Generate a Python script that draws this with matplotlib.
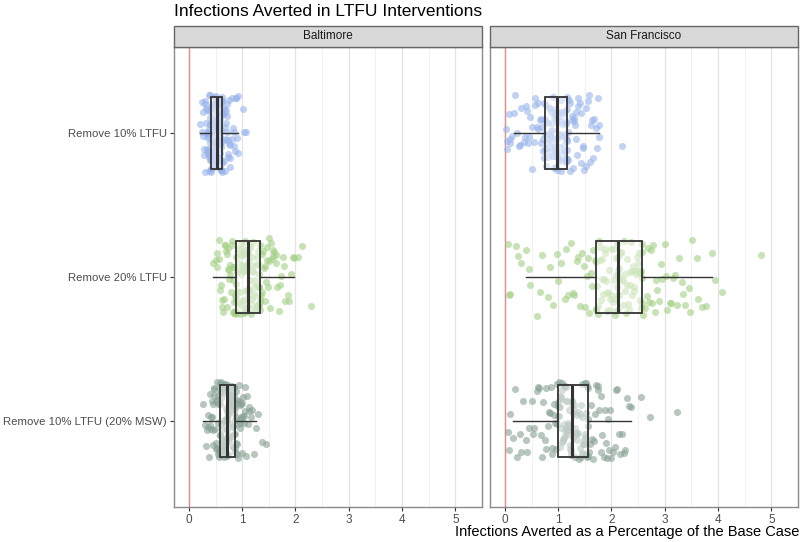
import numpy as np
import matplotlib.pyplot as plt
from matplotlib.patches import Rectangle

plt.rcParams['font.family'] = ['Liberation Sans', 'DejaVu Sans']

# data ----------------------------------------------------------------
cities = ['Baltimore', 'San Francisco']
interventions = ['Remove 10% LTFU', 'Remove 20% LTFU', 'Remove 10% LTFU (20% MSW)']
colors = ['#98B4EC', '#A3D084', '#87A294']

balt_10 = [0.21, 0.24, 0.26, 0.28, 0.29, 0.30, 0.31, 0.32, 0.33, 0.34, 0.34, 0.35, 0.36,
           0.36, 0.37, 0.37, 0.38, 0.38, 0.39, 0.39, 0.40, 0.40, 0.40, 0.41, 0.41,
           0.25, 0.27, 0.30, 0.32, 0.33, 0.35, 0.36, 0.37, 0.38, 0.39, 0.40, 0.40, 0.41,
           0.41, 0.42, 0.42, 0.43, 0.43, 0.44, 0.44, 0.45, 0.45, 0.46, 0.46, 0.47, 0.47,
           0.48, 0.48, 0.49, 0.49, 0.49, 0.50, 0.50, 0.51, 0.51, 0.51, 0.52, 0.52,
           0.42, 0.43, 0.44, 0.45, 0.46, 0.47, 0.48, 0.48, 0.49, 0.50, 0.50, 0.51, 0.52,
           0.52, 0.53, 0.53, 0.54, 0.54, 0.55, 0.55, 0.56, 0.56, 0.57, 0.57, 0.57, 0.58,
           0.58, 0.59, 0.59, 0.59, 0.60, 0.60, 0.60, 0.61, 0.61, 0.61, 0.62, 0.62,
           0.53, 0.54, 0.55, 0.55, 0.56, 0.57, 0.58, 0.58, 0.59, 0.60, 0.61, 0.61, 0.62,
           0.62, 0.63, 0.64, 0.65, 0.66, 0.67, 0.68, 0.69, 0.70, 0.71, 0.72, 0.73, 0.74,
           0.75, 0.77, 0.78, 0.80, 0.82, 0.84, 0.86, 0.88, 0.90, 0.93, 1.04, 1.08,
           0.63, 0.65, 0.67, 0.69, 0.71, 0.73, 0.75, 0.78, 0.81, 0.85, 0.89, 0.92, 1.02]
balt_20 = [0.46, 0.50, 0.53, 0.56, 0.58, 0.60, 0.62, 0.64, 0.66, 0.68, 0.70, 0.72, 0.73,
           0.75, 0.76, 0.77, 0.79, 0.80, 0.82, 0.83, 0.84, 0.85, 0.86, 0.88, 0.89,
           0.52, 0.57, 0.63, 0.67, 0.71, 0.74, 0.77, 0.80, 0.82, 0.84, 0.86, 0.87, 0.89,
           0.89, 0.90, 0.91, 0.92, 0.93, 0.94, 0.95, 0.96, 0.97, 0.98, 0.99, 1.00, 1.01,
           1.02, 1.03, 1.03, 1.04, 1.05, 1.06, 1.06, 1.07, 1.08, 1.09, 1.09, 1.10,
           0.91, 0.93, 0.95, 0.97, 0.99, 1.00, 1.02, 1.04, 1.05, 1.07, 1.08, 1.09, 1.10,
           1.10, 1.11, 1.12, 1.13, 1.14, 1.15, 1.16, 1.17, 1.18, 1.19, 1.20, 1.21, 1.22,
           1.23, 1.24, 1.25, 1.26, 1.27, 1.28, 1.29, 1.30, 1.31, 1.32, 1.32, 1.33,
           1.11, 1.13, 1.15, 1.17, 1.19, 1.21, 1.23, 1.25, 1.27, 1.29, 1.30, 1.31, 1.33,
           1.33, 1.35, 1.37, 1.39, 1.41, 1.43, 1.45, 1.47, 1.49, 1.51, 1.53, 1.55, 1.57,
           1.60, 1.63, 1.66, 1.69, 1.72, 1.76, 1.80, 1.85, 1.91, 1.97, 2.12, 2.30,
           1.34, 1.38, 1.42, 1.46, 1.50, 1.54, 1.58, 1.64, 1.70, 1.78, 1.87, 1.95, 2.05]
balt_msw = [0.27, 0.30, 0.33, 0.35, 0.37, 0.39, 0.41, 0.42, 0.44, 0.45, 0.46, 0.47, 0.48,
            0.49, 0.50, 0.51, 0.52, 0.53, 0.54, 0.55, 0.56, 0.56, 0.57, 0.58, 0.59,
            0.32, 0.36, 0.40, 0.43, 0.46, 0.48, 0.50, 0.52, 0.54, 0.55, 0.57, 0.58, 0.59,
            0.59, 0.60, 0.60, 0.61, 0.62, 0.62, 0.63, 0.64, 0.64, 0.65, 0.65, 0.66, 0.66,
            0.67, 0.67, 0.68, 0.68, 0.69, 0.69, 0.70, 0.70, 0.71, 0.71, 0.72, 0.72,
            0.60, 0.61, 0.62, 0.63, 0.64, 0.65, 0.66, 0.67, 0.68, 0.69, 0.70, 0.71, 0.72,
            0.72, 0.73, 0.73, 0.74, 0.75, 0.75, 0.76, 0.77, 0.77, 0.78, 0.79, 0.79, 0.80,
            0.81, 0.81, 0.82, 0.83, 0.83, 0.84, 0.84, 0.85, 0.85, 0.86, 0.86, 0.87,
            0.73, 0.74, 0.75, 0.76, 0.77, 0.78, 0.79, 0.80, 0.82, 0.83, 0.84, 0.85, 0.86,
            0.87, 0.88, 0.89, 0.90, 0.91, 0.92, 0.93, 0.94, 0.95, 0.96, 0.97, 0.98, 0.99,
            1.00, 1.02, 1.04, 1.06, 1.08, 1.10, 1.13, 1.17, 1.22, 1.30, 1.38, 1.45,
            0.88, 0.90, 0.92, 0.94, 0.96, 0.98, 1.01, 1.03, 1.06, 1.09, 1.12, 1.19, 1.26]
sf_10 = [0.02, 0.04, 0.07, 0.10, 0.13, 0.17, 0.22, 0.27, 0.31, 0.35, 0.39, 0.42, 0.45,
         0.48, 0.51, 0.54, 0.57, 0.60, 0.63, 0.65, 0.68, 0.70, 0.72, 0.74, 0.76,
         0.03, 0.09, 0.19, 0.29, 0.37, 0.44, 0.50, 0.56, 0.62, 0.67, 0.71, 0.73, 0.75,
         0.76, 0.77, 0.78, 0.79, 0.80, 0.81, 0.82, 0.83, 0.84, 0.85, 0.86, 0.87, 0.88,
         0.89, 0.90, 0.91, 0.92, 0.92, 0.93, 0.94, 0.94, 0.95, 0.96, 0.96, 0.97,
         0.77, 0.79, 0.81, 0.83, 0.85, 0.87, 0.88, 0.90, 0.91, 0.93, 0.94, 0.95, 0.96,
         0.97, 0.98, 0.99, 1.00, 1.01, 1.02, 1.03, 1.04, 1.05, 1.06, 1.07, 1.08, 1.09,
         1.10, 1.11, 1.12, 1.12, 1.13, 1.14, 1.14, 1.15, 1.15, 1.16, 1.16, 1.17,
         0.98, 1.00, 1.02, 1.04, 1.06, 1.08, 1.10, 1.11, 1.13, 1.14, 1.15, 1.16, 1.17,
         1.17, 1.19, 1.21, 1.23, 1.25, 1.27, 1.29, 1.31, 1.33, 1.35, 1.37, 1.40, 1.43,
         1.46, 1.49, 1.52, 1.55, 1.58, 1.61, 1.64, 1.67, 1.70, 1.74, 1.77, 2.20,
         1.18, 1.22, 1.26, 1.30, 1.34, 1.38, 1.42, 1.47, 1.53, 1.59, 1.65, 1.72, 1.76]
sf_20 = [0.05, 0.10, 0.20, 0.30, 0.39, 0.48, 0.60, 0.70, 0.80, 0.90, 0.98, 1.05, 1.12,
         1.18, 1.24, 1.30, 1.35, 1.40, 1.45, 1.50, 1.54, 1.58, 1.62, 1.66, 1.70,
         0.08, 0.25, 0.45, 0.65, 0.85, 1.00, 1.15, 1.27, 1.38, 1.48, 1.56, 1.63, 1.69,
         1.70, 1.72, 1.74, 1.76, 1.78, 1.80, 1.82, 1.84, 1.86, 1.88, 1.90, 1.92, 1.94,
         1.96, 1.98, 2.00, 2.02, 2.04, 2.05, 2.07, 2.08, 2.10, 2.11, 2.12, 2.13,
         1.71, 1.75, 1.79, 1.83, 1.87, 1.91, 1.95, 1.99, 2.03, 2.06, 2.09, 2.11, 2.12,
         2.13, 2.15, 2.17, 2.19, 2.21, 2.23, 2.25, 2.27, 2.29, 2.31, 2.33, 2.35, 2.37,
         2.39, 2.41, 2.43, 2.45, 2.47, 2.49, 2.51, 2.53, 2.54, 2.55, 2.57, 2.58,
         2.14, 2.18, 2.22, 2.26, 2.30, 2.34, 2.38, 2.42, 2.46, 2.50, 2.53, 2.56, 2.57,
         2.58, 2.62, 2.66, 2.70, 2.74, 2.78, 2.82, 2.86, 2.90, 2.95, 3.00, 3.05, 3.10,
         3.15, 3.20, 3.26, 3.32, 3.38, 3.45, 3.52, 3.60, 3.70, 3.88, 4.08, 4.81,
         2.60, 2.68, 2.76, 2.84, 2.92, 3.02, 3.12, 3.22, 3.35, 3.48, 3.62, 3.78, 3.95]
sf_msw = [0.05, 0.10, 0.16, 0.22, 0.28, 0.34, 0.40, 0.45, 0.50, 0.55, 0.60, 0.64, 0.68,
          0.72, 0.75, 0.78, 0.81, 0.84, 0.87, 0.89, 0.92, 0.94, 0.96, 0.98, 1.00,
          0.08, 0.19, 0.31, 0.42, 0.52, 0.62, 0.70, 0.77, 0.83, 0.88, 0.93, 0.97, 0.99,
          1.00, 1.01, 1.02, 1.03, 1.04, 1.05, 1.06, 1.07, 1.08, 1.09, 1.10, 1.11, 1.12,
          1.13, 1.14, 1.15, 1.16, 1.17, 1.18, 1.19, 1.20, 1.21, 1.22, 1.24, 1.25,
          1.01, 1.03, 1.05, 1.07, 1.09, 1.11, 1.13, 1.15, 1.17, 1.19, 1.21, 1.23, 1.24,
          1.25, 1.26, 1.28, 1.29, 1.31, 1.32, 1.34, 1.35, 1.37, 1.38, 1.40, 1.41, 1.43,
          1.44, 1.45, 1.47, 1.48, 1.49, 1.50, 1.51, 1.52, 1.53, 1.54, 1.55, 1.56,
          1.27, 1.30, 1.33, 1.36, 1.39, 1.42, 1.44, 1.46, 1.48, 1.50, 1.52, 1.54, 1.55,
          1.56, 1.59, 1.62, 1.65, 1.68, 1.71, 1.74, 1.77, 1.80, 1.83, 1.86, 1.89, 1.92,
          1.95, 1.98, 2.02, 2.06, 2.10, 2.14, 2.19, 2.24, 2.30, 2.37, 2.73, 3.23,
          1.58, 1.63, 1.69, 1.75, 1.81, 1.87, 1.93, 2.00, 2.08, 2.16, 2.25, 2.33, 2.55]

panels = {'Baltimore': [balt_10, balt_20, balt_msw],
          'San Francisco': [sf_10, sf_20, sf_msw]}

# figure --------------------------------------------------------------
fig = plt.figure(figsize=(8, 5.42), dpi=100)
lefts = [174 / 800, 490 / 800]
width = 308 / 800
bottom = 1 - 507 / 542
height = 460 / 542
strip_h = 21 / 542

rng = np.random.default_rng(7)  # jitter offsets only
ypos = [3, 2, 1]  # top to bottom

for k, city in enumerate(cities):
    ax = fig.add_axes([lefts[k], bottom, width, height])
    ax.set_xlim(-0.28, 5.5)
    ax.set_ylim(0.4, 3.6)
    # grid
    for v in np.arange(0.5, 5.6, 1.0):
        ax.axvline(v, color='#EFEFEF', lw=0.6, zorder=0)
    for v in range(6):
        ax.axvline(v, color='#E3E3E3', lw=0.9, zorder=0)
    ax.axvline(0, color='#E98A8A', lw=1.0, zorder=1)

    groups = panels[city]
    for vals, y, c in zip(groups, ypos, colors):
        vals = np.asarray(vals)
        jit = rng.uniform(-0.27, 0.27, len(vals))
        ax.scatter(vals, y + jit, s=26, color=c, alpha=0.6, lw=0, zorder=2)
    ax.boxplot(groups, positions=ypos, vert=False, widths=0.5,
               showfliers=False, patch_artist=True, zorder=3,
               boxprops=dict(facecolor=(1, 1, 1, 0.45), edgecolor='#333333', lw=1.3),
               medianprops=dict(color='#333333', lw=2.2),
               whiskerprops=dict(color='#333333', lw=1.0),
               capprops=dict(lw=0))

    for s in ax.spines.values():
        s.set_color('#8A8A8A')
        s.set_linewidth(1.0)
    ax.set_xticks(range(6))
    ax.tick_params(axis='x', colors='#333333', labelcolor='#4D4D4D', labelsize=8.5,
                   length=3, width=0.8, pad=2)
    if k == 0:
        ax.set_yticks(ypos)
        ax.set_yticklabels(interventions)
        ax.tick_params(axis='y', colors='#333333', labelcolor='#4D4D4D',
                       labelsize=8.2, length=3, width=0.8, pad=2)
    else:
        ax.set_yticks([])

    # strip
    fig.add_artist(Rectangle((lefts[k], bottom + height), width, strip_h,
                             transform=fig.transFigure, facecolor='#D9D9D9',
                             edgecolor='#666666', lw=1.0))
    fig.text(lefts[k] + width / 2, bottom + height + strip_h / 2, city,
             ha='center', va='center', fontsize=8.5, color='#1A1A1A')

fig.text(174 / 800, 1 - 4 / 542, 'Infections Averted in LTFU Interventions',
         ha='left', va='top', fontsize=12.5, color='black')
fig.text(799 / 800, 1 - 532 / 542, 'Infections Averted as a Percentage of the Base Case',
         ha='right', va='center', fontsize=10.5, color='black')

fig.savefig('out.png', dpi=100)
